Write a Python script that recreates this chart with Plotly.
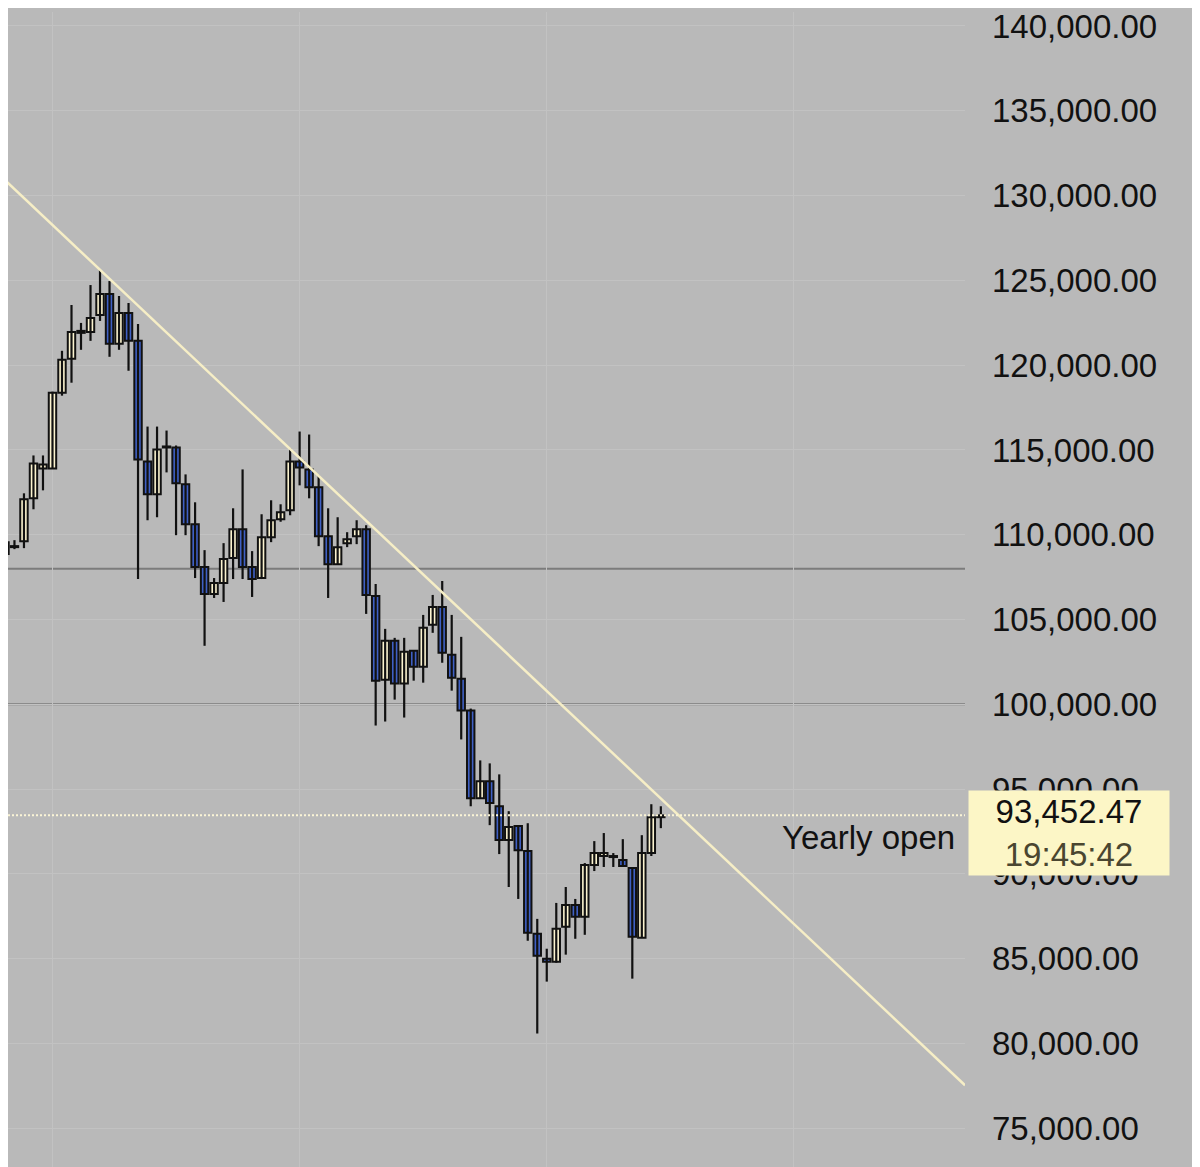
import plotly.graph_objects as go

opens  = [108857,109269,109621,112148,113911,113911,118377,120375,121903,121961,
          122960,124194,121256,123077,121432,114322,112383,115145,115145,112970,
          110620,108094,106507,107153,108622,110326,108094,107447,109849,110914,
          111443,114322,113852,112795,109908,108262,109504,109908,110326,106389,
          101453,103745,101223,103158,102218,104686,105746,102923,101512,99640,
          94467,95470,93990,92000,92820,91350,86470,85000,84825,86880,
          88170,87470,90525,91055,90995,90820,90350,86235,91230,93345]
closes = [109563,109328,112089,114205,114146,118377,120316,121961,122020,122784,
          124194,121256,123077,121432,114440,112383,115027,115204,113029,110620,
          108094,106507,107153,108563,110326,108094,107388,109849,110855,111326,
          114322,113970,112795,109908,108262,109269,109739,110326,106448,101395,
          103745,101223,103099,102218,104510,105746,103040,101571,99640,94467,
          95470,94180,92000,92760,91400,86530,85180,84825,86760,88170,
          87470,90525,91230,91230,91055,90470,86295,91230,93345,93452.47]
highs  = [110268,109680,112442,114675,114675,118436,120845,123547,122490,124723,
          125604,124958,124077,123665,122431,116378,116378,116143,115262,113558,
          111913,109092,107447,109504,111560,113852,109034,111208,112032,111796,
          115085,116085,115908,113499,111560,111032,110150,110855,110561,107095,
          104450,103920,103920,103158,105273,106451,107272,105273,103979,99750,
          96694,96518,95870,93700,92876,92990,87350,85590,88290,89230,
          88525,90640,91935,92410,91230,92050,90350,92285,94110,93990]
lows   = [108681,109151,109210,111502,112618,113911,118200,118964,120904,121432,
          122607,120492,120904,119669,107388,110855,111032,113676,109974,109974,
          107447,103452,106272,106037,107388,107388,106331,107388,109563,110766,
          111149,112912,112148,109327,106272,108262,109269,109445,105332,98750,
          98986,100278,99221,101395,101277,104216,102452,100807,97930,93990,
          94467,92876,91170,89230,88525,86060,80590,83650,84765,85240,
          86175,86410,90170,90410,90410,90470,83825,86235,91055,92700]

levels = [108000, 100000]
yearly_open = 93452.47
price_label = "93,452.47"
time_label = "19:45:42"
trend_x = [-0.53, 101.0]
trend_price = [131186, 77540]
tick_vals = list(range(75000, 140001, 5000))
tick_text = [f"{v:,.2f}" for v in tick_vals]

BG = "#b9b9b9"
CREAM = "#fbf3cf"
BLUE = "#3f60c4"
FONT = "Liberation Sans"

idx = list(range(len(opens)))
base = [min(o, c) for o, c in zip(opens, closes)]
body = [max(abs(c - o), 60) for o, c in zip(opens, closes)]
colors = [CREAM if c >= o else BLUE for o, c in zip(opens, closes)]
wx, wy = [], []
for i, h, l in zip(idx, highs, lows):
    wx += [i, i, None]
    wy += [l, h, None]

fig = go.Figure()
fig.add_trace(go.Scatter(x=wx, y=wy, mode="lines", line=dict(color="#111111", width=2.2),
                         showlegend=False, hoverinfo="skip"))
fig.add_trace(go.Bar(x=idx, y=body, base=base, width=0.78,
                     marker=dict(color=colors, line=dict(color="#111111", width=2)),
                     showlegend=False, hoverinfo="skip"))
fig.add_trace(go.Scatter(x=trend_x, y=trend_price, mode="lines",
                         line=dict(color="#f6eec6", width=2.5), showlegend=False, hoverinfo="skip"))
for lv in levels:
    fig.add_shape(type="line", xref="paper", x0=0, x1=1, y0=lv, y1=lv, layer="below",
                  line=dict(color="#7c7c7c", width=2))
fig.add_shape(type="line", xref="paper", x0=0, x1=1, y0=yearly_open, y1=yearly_open,
              line=dict(color="#fbf5d6", width=2, dash="2px,2px"))
fig.add_annotation(xref="paper", x=0.992, y=yearly_open, yshift=-22, text="Yearly open",
                   showarrow=False, xanchor="right",
                   font=dict(size=33, color="#111111", family=FONT))
fig.add_annotation(xref="paper", x=1.003, y=yearly_open, yshift=-18, yanchor="middle",
                   text=f"{price_label}<br><span style='color:#4a4630'>{time_label}</span>",
                   showarrow=False, xanchor="left", align="center",
                   bgcolor="#fcf6c6", borderpad=0, width=200, height=84,
                   font=dict(size=33, color="#111111", family=FONT))

fig.update_layout(
    width=1192, height=1159, paper_bgcolor=BG, plot_bgcolor=BG,
    margin=dict(l=0, r=235, t=0, b=0), barmode="overlay",
    xaxis=dict(range=[0.32, 101], showgrid=True, gridcolor="#c2c2c2", gridwidth=1,
               tickvals=[5, 31, 57, 83], showticklabels=False, zeroline=False, fixedrange=True),
    yaxis=dict(range=[72719, 140823], side="right", tickvals=tick_vals, ticktext=tick_text,
               showgrid=True, gridcolor="#c2c2c2", gridwidth=1, zeroline=False,
               ticks="", ticklabelstandoff=26, ticklabeloverflow="allow",
               tickfont=dict(size=33, color="#111111", family=FONT)),
)
fig.write_html("out.html")
